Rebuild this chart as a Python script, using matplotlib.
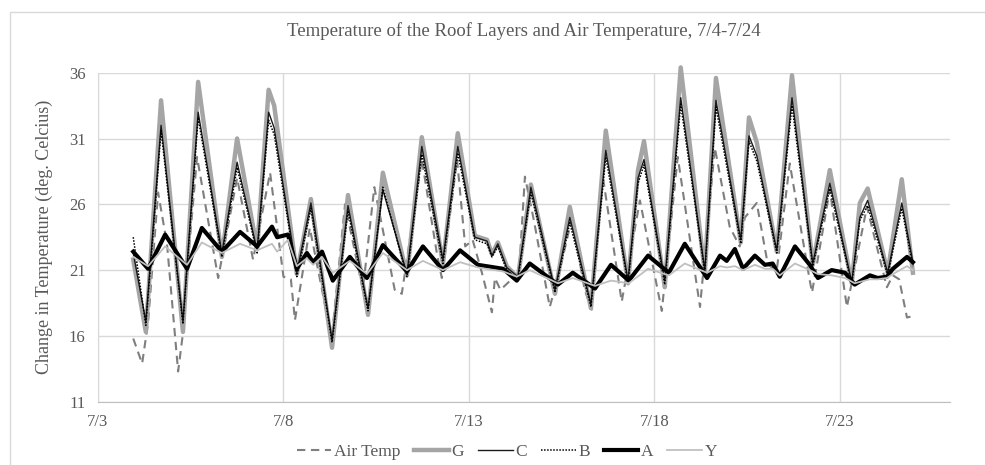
import matplotlib
matplotlib.use("Agg")
import matplotlib.pyplot as plt
from matplotlib.patches import Rectangle

# ---------------- data (days since 7/3 00:00) ----------------
t_roof = [0.95, 1.29, 1.70, 2.29, 2.70, 3.34, 3.75, 4.29, 4.60, 4.75, 5.36, 5.74,
          6.31, 6.74, 7.28, 7.68, 8.33, 8.73, 9.30, 9.70, 10.16, 10.49, 10.62, 10.78,
          11.02, 11.32, 11.67, 12.32, 12.72, 13.29, 13.69, 14.29, 14.56, 14.72, 15.28,
          15.71, 16.36, 16.66, 17.33, 17.55, 17.76, 18.30, 18.71, 19.27, 19.73, 20.32,
          20.54, 20.75, 21.29, 21.67, 21.97]
G = [21.8, 16.3, 33.9, 16.3, 35.3, 22.0, 31.0, 22.6, 34.7, 33.5, 20.7, 26.4,
     15.1, 26.7, 17.6, 28.4, 20.6, 31.1, 21.5, 31.4, 23.6, 23.3, 22.2, 23.1,
     21.3, 20.4, 27.5, 19.2, 25.8, 18.1, 31.6, 20.0, 28.6, 30.8, 19.7,
     36.4, 20.8, 35.6, 23.1, 32.6, 30.7, 22.4, 35.8, 21.4, 28.6, 20.0,
     26.1, 27.2, 20.8, 27.9, 20.8]
C = [22.3, 17.1, 32.0, 17.1, 33.0, 22.3, 29.2, 22.5, 33.0, 31.8, 20.8, 26.1,
     15.7, 25.9, 18.1, 27.1, 20.7, 30.4, 21.8, 30.4, 23.5, 23.2, 22.1, 23.0,
     21.2, 20.5, 27.3, 19.5, 25.0, 18.4, 30.1, 20.2, 28.0, 29.4, 20.2,
     34.1, 21.0, 33.9, 23.3, 31.2, 29.7, 22.5, 34.1, 21.5, 27.6, 20.1,
     25.0, 26.3, 20.8, 26.1, 21.6]
B = [23.5, 16.8, 31.6, 16.9, 32.6, 22.0, 28.8, 22.3, 32.4, 31.3, 20.5, 25.7,
     15.5, 25.5, 17.9, 27.3, 20.5, 29.8, 21.5, 29.9, 23.3, 23.0, 22.0, 22.8,
     21.0, 20.3, 26.9, 19.3, 24.6, 18.2, 29.6, 20.0, 27.6, 29.0, 19.9,
     33.6, 20.8, 33.4, 23.0, 30.8, 29.3, 22.3, 33.5, 21.3, 27.2, 19.9,
     24.8, 25.9, 20.6, 25.7, 21.3]

t_core = [0.95, 1.35, 1.81, 2.40, 2.80, 3.34, 3.83, 4.29, 4.69, 4.83, 5.12, 5.36,
          5.63, 5.80, 6.04, 6.33, 6.79, 7.25, 7.68, 8.33, 8.76, 9.30, 9.76, 10.24,
          10.92, 11.29, 11.64, 12.40, 12.80, 13.40, 13.83, 14.31, 14.83, 15.39, 15.82,
          16.42, 16.77, 16.95, 17.17, 17.39, 17.71, 17.98, 18.19, 18.38, 18.79, 19.19,
          19.41, 19.78, 20.14, 20.40, 20.81, 21.02, 21.27, 21.43, 21.81, 21.97]
A = [22.4, 21.1, 23.7, 21.1, 24.2, 22.4, 23.9, 22.8, 24.3, 23.5, 23.7, 21.1,
     22.3, 21.6, 22.4, 20.2, 22.0, 20.4, 22.9, 20.9, 22.8, 21.0, 22.5, 21.4,
     21.1, 20.2, 21.5, 19.9, 20.8, 19.6, 21.4, 20.2, 22.1, 20.8, 23.0,
     20.4, 22.1, 21.7, 22.6, 21.1, 22.1, 21.4, 21.5, 20.5, 22.8, 21.4,
     20.4, 21.0, 20.8, 19.9, 20.6, 20.4, 20.5, 21.1, 22.0, 21.6]
Y = [22.0, 21.3, 22.8, 21.4, 23.1, 22.3, 23.0, 22.5, 23.0, 22.4, 23.3, 21.3,
     21.9, 21.4, 22.0, 20.8, 21.7, 20.7, 22.3, 21.0, 21.7, 21.0, 21.6, 21.2,
     20.9, 20.5, 21.0, 20.0, 20.4, 19.8, 20.2, 20.0, 21.1, 20.6, 21.5,
     20.8, 21.3, 21.2, 21.3, 21.0, 21.4, 21.1, 21.1, 20.6, 21.5, 21.0,
     20.7, 20.6, 20.4, 20.0, 20.3, 20.3, 20.4, 20.7, 21.3, 21.0]

t_air = [0.95, 1.19, 1.35, 1.62, 1.86, 2.16, 2.29, 2.43, 2.67, 3.24, 3.75, 4.18,
         4.64, 5.00, 5.20, 5.31, 5.71, 6.30, 6.66, 7.14, 7.45, 8.00, 8.19, 8.73,
         9.14, 9.27, 9.68, 9.90, 10.10, 10.35, 10.62, 10.70, 10.85, 11.15, 11.35,
         11.51, 11.75, 12.18, 12.45, 12.78, 13.12, 13.31, 13.61, 14.12, 14.61, 15.20,
         15.63, 16.23, 16.63, 17.03, 17.30, 17.44, 17.76, 18.06, 18.30, 18.65, 19.19,
         19.25, 19.73, 20.19, 20.73, 21.27, 21.43, 21.60, 21.81, 21.97]
air = [15.8, 13.9, 17.0, 26.9, 23.0, 13.3, 16.2, 21.8, 29.6, 20.4, 28.0, 21.8,
       28.4, 20.5, 20.3, 17.2, 24.2, 15.8, 26.0, 19.5, 27.3, 19.5, 19.2, 29.4,
       22.2, 20.4, 29.4, 22.8, 23.3, 20.8, 17.8, 20.4, 19.5, 20.3, 20.8,
       28.1, 24.8, 18.2, 21.0, 25.0, 19.5, 18.0, 28.1, 18.6, 26.3, 17.9,
       29.6, 18.2, 30.3, 24.3, 22.8, 25.0, 26.1, 21.4, 21.0, 29.1, 20.2,
       19.3, 27.1, 18.2, 25.8, 19.7, 20.6, 20.3, 17.4, 17.5]

x_ticks = [0, 5, 10, 15, 20]
x_labels = ["7/3", "7/8", "7/13", "7/18", "7/23"]
y_ticks = [11, 16, 21, 26, 31, 36]

title = "Temperature of the Roof Layers and Air Temperature, 7/4-7/24"
ylabel = "Change in Temperature (deg. Celcius)"

# ---------------- plot ----------------
plt.rcParams['font.family'] = ['Liberation Serif', 'DejaVu Serif']
txt = '#595959'
fig = plt.figure(figsize=(9.85, 4.65), dpi=100)
ax = fig.add_axes([98/985, 1-401.7/465, (950-98)/985, (401.7-72.7)/465])

ax.plot(t_air, air, color='#7f7f7f', lw=1.5, dashes=(4, 2.7), label='Air Temp', clip_on=False)
ax.plot(t_roof, G, color='#a5a5a5', lw=3.2, label='G', solid_joinstyle='round', clip_on=False)
ax.plot(t_roof, C, color='#1a1a1a', lw=1.0, label='C', clip_on=False)
ax.plot(t_roof, B, color='#000000', lw=1.1, linestyle=(0, (1, 1)), label='B', clip_on=False)
ax.plot(t_core, A, color='#000000', lw=3.0, label='A', solid_joinstyle='round', clip_on=False)
ax.plot(t_core, Y, color='#c0c0c0', lw=1.3, label='Y', clip_on=False)

ax.set_xlim(0, 22.97)
ax.set_ylim(11, 36)
ax.set_xticks(x_ticks)
ax.set_xticklabels(x_labels)
ax.set_yticks(y_ticks)
ax.grid(True, color='#d9d9d9', lw=1.0)
ax.set_axisbelow(True)
for s in ['top', 'right']:
    ax.spines[s].set_visible(False)
ax.spines['left'].set_color('#d9d9d9')
ax.spines['bottom'].set_color('#bfbfbf')
ax.tick_params(axis='both', length=0, labelsize=12, colors=txt, pad=9)
ax.set_ylabel(ylabel, fontsize=13, color=txt, labelpad=11)

fig.text(524/985, 1-31/465, title, ha='center', va='center', fontsize=13.5, color=txt)

leg = fig.legend(loc='center', bbox_to_anchor=(507/985, 1-452/465), ncol=6,
                 frameon=False, fontsize=12.5, handlelength=2.0, handletextpad=0.15,
                 columnspacing=0.8, labelcolor=txt)

fig.patches.append(Rectangle((10/985, -0.05), 1.2, 0.05 + 1-12/465, transform=fig.transFigure,
                             fill=False, edgecolor='#d9d9d9', lw=1.0))

fig.savefig('out.png', dpi=100)
